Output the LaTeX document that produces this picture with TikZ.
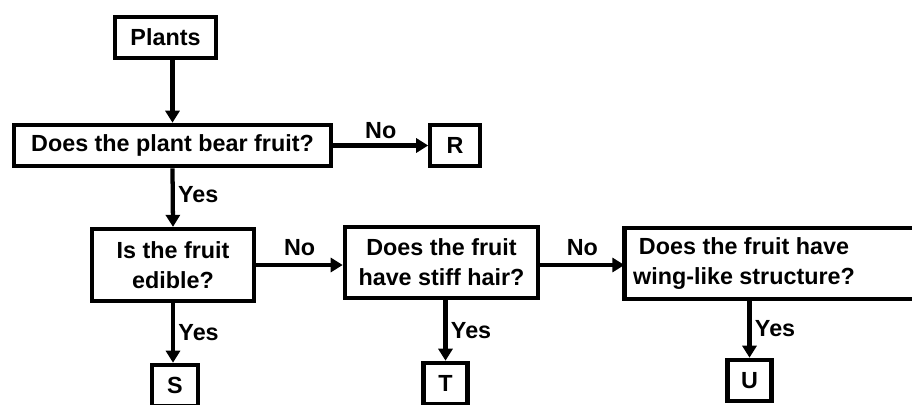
\documentclass[tikz,border=0pt]{standalone}
\usepackage{fontspec}
\setmainfont{Liberation Sans}
\usetikzlibrary{arrows.meta,positioning}

\begin{document}
\begin{tikzpicture}[
    x=0.75pt, y=-0.75pt,
    every node/.style={font=\bfseries\fontsize{17.5}{22.5}\selectfont, align=center},
    box/.style={draw, line width=3.2pt, inner sep=2pt, minimum height=31pt},
    leaf/.style={box, minimum width=33pt},
    answer/.style={inner sep=2.5pt},
    arrow/.style={line width=3.2pt, -{Triangle[length=9pt,width=10.5pt]}}
  ]
    \useasboundingbox (0,0) rectangle (912,404);

    % Start and first question
    \node[box, minimum width=76pt] (plants) at (165.5,37.5) {Plants};
    \node[box, minimum width=238pt] (bearfruit) at (172.5,145.5) {Does the plant bear fruit?};
    \node[leaf, minimum width=37pt] (r) at (455,145.5) {R};

    % Questions about the fruit
    \node[box, minimum width=122pt, minimum height=54pt] (edible) at (173,265) {Is the fruit\\edible?};
    \node[box, minimum width=145pt, minimum height=53pt] (stiffhair) at (441.5,262.5) {Does the fruit\\have stiff hair?};
    \node[minimum width=179pt, minimum height=53pt] (winglike) at (744,263.5) {Does the fruit have\\wing-like structure?};
    \draw[line width=3.2pt] (winglike.south west) rectangle ([xshift=80pt]winglike.north east);

    % Outcomes
    \node[leaf, minimum width=35pt] (s) at (175,385.5) {S};
    \node[leaf] (t) at (445.5,383.5) {T};
    \node[leaf] (u) at (749.5,380.5) {U};

    % Connections
    \draw[arrow] (plants.south -| bearfruit.north) -- (bearfruit.north);
    \draw[arrow] (bearfruit) -- node[answer, above, yshift=1pt] {No} (r);
    \draw[arrow] (bearfruit.south) -- node[answer, right, pos=0.45] {Yes} (edible.north);
    \draw[arrow] (edible.south) -- node[answer, right] {Yes} (edible.south |- s.north);
    \draw[arrow] (edible.east) -- node[answer, above, yshift=3pt] {No} (edible.east -| stiffhair.west);
    \draw[arrow] (stiffhair.east |- edible.east) -- node[answer, above, yshift=3pt] {No} (edible.east -| winglike.west);
    \draw[arrow] (stiffhair.south -| t.north) -- node[answer, right] {Yes} (t.north);
    \draw[arrow] (winglike.south -| u.north) -- node[answer, right] {Yes} (u.north);

  \end{tikzpicture}
\end{document}
